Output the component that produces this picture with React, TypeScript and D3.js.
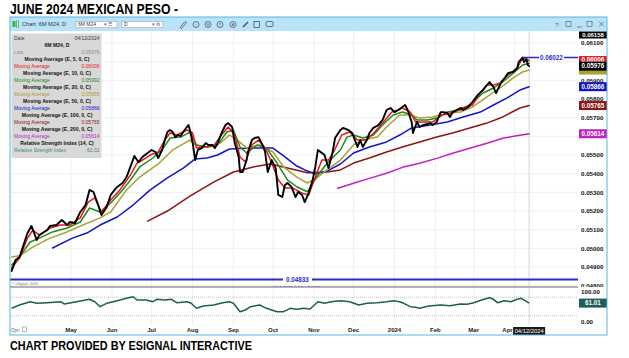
import * as d3 from "d3";

type Pt = [string, number];

const parse = d3.timeParse("%Y-%m-%d");
const SANS = "'Liberation Sans', Arial, sans-serif";

// daily close of the 6M M24 contract
const closePrices: Pt[] = [
  ["2023-03-17", 0.04879], ["2023-03-20", 0.04938], ["2023-03-23", 0.04954], ["2023-03-29", 0.05082],
  ["2023-04-01", 0.0512], ["2023-04-05", 0.05045], ["2023-04-07", 0.05071], ["2023-04-13", 0.05098],
  ["2023-04-15", 0.0512], ["2023-04-20", 0.05125], ["2023-04-24", 0.05152], ["2023-04-28", 0.05125],
  ["2023-04-30", 0.05141], ["2023-05-04", 0.05136], ["2023-05-08", 0.05195], ["2023-05-12", 0.05232],
  ["2023-05-15", 0.05313], ["2023-05-18", 0.05302], ["2023-05-21", 0.05243], ["2023-05-24", 0.05179],
  ["2023-05-28", 0.05221], ["2023-05-31", 0.05286], ["2023-06-03", 0.05313], ["2023-06-05", 0.05329],
  ["2023-06-09", 0.0535], ["2023-06-12", 0.05382], ["2023-06-16", 0.05457], ["2023-06-18", 0.05495],
  ["2023-06-21", 0.05462], ["2023-06-24", 0.05489], ["2023-06-28", 0.05511], ["2023-07-01", 0.05527],
  ["2023-07-04", 0.05516], ["2023-07-06", 0.05484], ["2023-07-09", 0.05527], ["2023-07-11", 0.0558],
  ["2023-07-13", 0.05623], ["2023-07-15", 0.05634], ["2023-07-17", 0.05623], ["2023-07-19", 0.05596],
  ["2023-07-21", 0.05607], ["2023-07-23", 0.05602], ["2023-07-26", 0.05634], ["2023-07-29", 0.05661],
  ["2023-07-30", 0.05634], ["2023-08-01", 0.0557], ["2023-08-03", 0.05473], ["2023-08-05", 0.05527],
  ["2023-08-08", 0.05537], ["2023-08-11", 0.05564], ["2023-08-13", 0.05554], ["2023-08-16", 0.05554],
  ["2023-08-18", 0.05537], ["2023-08-20", 0.05564], ["2023-08-23", 0.05618], ["2023-08-26", 0.05661],
  ["2023-08-28", 0.05671], ["2023-08-31", 0.0565], ["2023-09-02", 0.05564], ["2023-09-05", 0.05489],
  ["2023-09-06", 0.05409], ["2023-09-08", 0.05409], ["2023-09-11", 0.05473], ["2023-09-12", 0.05516],
  ["2023-09-15", 0.0558], ["2023-09-17", 0.05591], ["2023-09-20", 0.05596], ["2023-09-23", 0.05554],
  ["2023-09-25", 0.05516], ["2023-09-27", 0.05409], ["2023-09-30", 0.05473], ["2023-10-03", 0.0543],
  ["2023-10-05", 0.05286], ["2023-10-08", 0.05275], ["2023-10-10", 0.05339], ["2023-10-12", 0.0535],
  ["2023-10-15", 0.05329], ["2023-10-18", 0.05275], ["2023-10-20", 0.05302], ["2023-10-23", 0.05286],
  ["2023-10-25", 0.05248], ["2023-10-28", 0.05296], ["2023-10-31", 0.05366], ["2023-11-02", 0.05436],
  ["2023-11-04", 0.05527], ["2023-11-07", 0.05511], ["2023-11-09", 0.055], ["2023-11-12", 0.0543],
  ["2023-11-15", 0.05511], ["2023-11-17", 0.05591], ["2023-11-21", 0.05634], ["2023-11-23", 0.05645],
  ["2023-11-27", 0.05634], ["2023-11-30", 0.05618], ["2023-12-02", 0.0558], ["2023-12-04", 0.05543],
  ["2023-12-06", 0.0558], ["2023-12-08", 0.05543], ["2023-12-11", 0.0558], ["2023-12-13", 0.05618],
  ["2023-12-16", 0.05645], ["2023-12-20", 0.05661], ["2023-12-23", 0.05688], ["2023-12-26", 0.05741],
  ["2023-12-29", 0.05752], ["2024-01-01", 0.0573], ["2024-01-04", 0.05741], ["2024-01-07", 0.05757],
  ["2024-01-09", 0.05768], ["2024-01-11", 0.05741], ["2024-01-14", 0.05677], ["2024-01-15", 0.05618],
  ["2024-01-18", 0.05677], ["2024-01-20", 0.0565], ["2024-01-23", 0.05661], ["2024-01-26", 0.05666],
  ["2024-01-28", 0.05671], ["2024-01-30", 0.05661], ["2024-02-02", 0.05677], ["2024-02-05", 0.0573],
  ["2024-02-07", 0.0573], ["2024-02-10", 0.05725], ["2024-02-12", 0.05704], ["2024-02-14", 0.0573],
  ["2024-02-17", 0.05741], ["2024-02-20", 0.05752], ["2024-02-22", 0.05741], ["2024-02-26", 0.05757],
  ["2024-02-29", 0.05784], ["2024-03-04", 0.05821], ["2024-03-08", 0.05848], ["2024-03-11", 0.05875],
  ["2024-03-13", 0.05891], ["2024-03-16", 0.05864], ["2024-03-18", 0.05832], ["2024-03-19", 0.05848],
  ["2024-03-22", 0.05891], ["2024-03-25", 0.05918], ["2024-03-27", 0.05939], ["2024-03-31", 0.05945],
  ["2024-04-03", 0.05966], ["2024-04-04", 0.05998], ["2024-04-07", 0.06022], ["2024-04-08", 0.05998],
  ["2024-04-10", 0.06014], ["2024-04-11", 0.05982], ["2024-04-12", 0.05976],
];

const ema5: Pt[] = [
  ["2023-03-17", 0.04895], ["2023-03-23", 0.04948], ["2023-03-29", 0.05055], ["2023-04-02", 0.05098],
  ["2023-04-07", 0.05071], ["2023-04-15", 0.05109], ["2023-04-23", 0.05125], ["2023-04-30", 0.05125],
  ["2023-05-08", 0.05163], ["2023-05-14", 0.05248], ["2023-05-19", 0.0527], ["2023-05-24", 0.05195],
  ["2023-05-31", 0.05259], ["2023-06-07", 0.05313], ["2023-06-15", 0.05393], ["2023-06-20", 0.05457],
  ["2023-06-22", 0.05463], ["2023-06-30", 0.055], ["2023-07-06", 0.05516], ["2023-07-11", 0.0558],
  ["2023-07-15", 0.05618], ["2023-07-20", 0.05607], ["2023-07-28", 0.05634], ["2023-08-01", 0.05618],
  ["2023-08-04", 0.05538], ["2023-08-09", 0.05543], ["2023-08-17", 0.05548], ["2023-08-23", 0.05607],
  ["2023-08-28", 0.0565], ["2023-09-02", 0.05607], ["2023-09-06", 0.05489], ["2023-09-10", 0.05463],
  ["2023-09-15", 0.05554], ["2023-09-20", 0.0558], ["2023-09-25", 0.05538], ["2023-09-30", 0.05457],
  ["2023-10-05", 0.05366], ["2023-10-10", 0.05323], ["2023-10-16", 0.05323], ["2023-10-23", 0.05296],
  ["2023-10-28", 0.05286], ["2023-11-02", 0.05382], ["2023-11-07", 0.05473], ["2023-11-12", 0.05473],
  ["2023-11-17", 0.05532], ["2023-11-22", 0.05607], ["2023-11-28", 0.05623], ["2023-12-04", 0.0558],
  ["2023-12-11", 0.0558], ["2023-12-17", 0.05623], ["2023-12-23", 0.05671], ["2023-12-30", 0.0573],
  ["2024-01-07", 0.05752], ["2024-01-13", 0.0573], ["2024-01-17", 0.05677], ["2024-01-23", 0.05677],
  ["2024-01-30", 0.05677], ["2024-02-06", 0.05714], ["2024-02-14", 0.05725], ["2024-02-21", 0.05752],
  ["2024-02-29", 0.05768], ["2024-03-06", 0.05832], ["2024-03-11", 0.05875], ["2024-03-16", 0.05875],
  ["2024-03-21", 0.05886], ["2024-03-27", 0.05929], ["2024-04-03", 0.05966], ["2024-04-07", 0.0602],
  ["2024-04-12", 0.06006],
];

const ema10: Pt[] = [
  ["2023-03-17", 0.04911], ["2023-03-23", 0.04954], ["2023-03-31", 0.05034], ["2023-04-07", 0.05055],
  ["2023-04-17", 0.05088], ["2023-04-28", 0.05109], ["2023-05-08", 0.05141], ["2023-05-15", 0.05216],
  ["2023-05-23", 0.05195], ["2023-05-31", 0.05243], ["2023-06-07", 0.05296], ["2023-06-15", 0.05366],
  ["2023-06-22", 0.05436], ["2023-07-02", 0.05484], ["2023-07-10", 0.05538], ["2023-07-15", 0.05591],
  ["2023-07-23", 0.05596], ["2023-07-30", 0.05623], ["2023-08-04", 0.05554], ["2023-08-12", 0.05543],
  ["2023-08-20", 0.05554], ["2023-08-27", 0.05623], ["2023-09-01", 0.05634], ["2023-09-06", 0.05543],
  ["2023-09-11", 0.05511], ["2023-09-19", 0.05554], ["2023-09-26", 0.05538], ["2023-10-04", 0.05457],
  ["2023-10-12", 0.05366], ["2023-10-19", 0.0533], ["2023-10-27", 0.05303], ["2023-11-03", 0.05382],
  ["2023-11-11", 0.05457], ["2023-11-21", 0.05527], ["2023-11-26", 0.05596], ["2023-12-01", 0.05607],
  ["2023-12-08", 0.05591], ["2023-12-16", 0.05607], ["2023-12-23", 0.05661], ["2023-12-31", 0.05714],
  ["2024-01-07", 0.0573], ["2024-01-14", 0.05714], ["2024-01-18", 0.05688], ["2024-01-26", 0.05688],
  ["2024-02-02", 0.05698], ["2024-02-10", 0.0573], ["2024-02-20", 0.05741], ["2024-02-29", 0.05779],
  ["2024-03-08", 0.05832], ["2024-03-16", 0.05859], ["2024-03-23", 0.05891], ["2024-03-31", 0.05939],
  ["2024-04-07", 0.05982], ["2024-04-12", 0.05992],
];

const ema20: Pt[] = [
  ["2023-03-17", 0.04954], ["2023-03-23", 0.0496], ["2023-04-02", 0.05007], ["2023-04-15", 0.05055],
  ["2023-04-28", 0.05088], ["2023-05-10", 0.05125], ["2023-05-23", 0.05163], ["2023-05-31", 0.05195],
  ["2023-06-12", 0.05313], ["2023-06-22", 0.05382], ["2023-07-06", 0.05452], ["2023-07-17", 0.05527],
  ["2023-07-30", 0.0558], ["2023-08-03", 0.05554], ["2023-08-12", 0.05543], ["2023-08-22", 0.05564],
  ["2023-08-29", 0.05607], ["2023-09-04", 0.0558], ["2023-09-11", 0.05538], ["2023-09-21", 0.05554],
  ["2023-10-01", 0.05516], ["2023-10-09", 0.05436], ["2023-10-19", 0.05382], ["2023-10-27", 0.0535],
  ["2023-11-03", 0.05377], ["2023-11-11", 0.0542], ["2023-11-21", 0.05473], ["2023-12-01", 0.05554],
  ["2023-12-08", 0.0558], ["2023-12-19", 0.05596], ["2023-12-26", 0.0565], ["2024-01-05", 0.05714],
  ["2024-01-13", 0.05714], ["2024-01-20", 0.05698], ["2024-01-30", 0.05704], ["2024-02-10", 0.05725],
  ["2024-02-20", 0.0573], ["2024-02-29", 0.05757], ["2024-03-11", 0.05811], ["2024-03-21", 0.05859],
  ["2024-03-31", 0.05913], ["2024-04-07", 0.05945], ["2024-04-12", 0.05955],
];

const ema50: Pt[] = [
  ["2023-04-17", 0.05002], ["2023-05-02", 0.05055], ["2023-05-13", 0.05082], ["2023-05-23", 0.05125],
  ["2023-06-05", 0.05168], ["2023-06-17", 0.05232], ["2023-06-30", 0.05313], ["2023-07-13", 0.05377],
  ["2023-07-25", 0.0543], ["2023-08-03", 0.05479], ["2023-08-12", 0.05484], ["2023-08-20", 0.055],
  ["2023-08-29", 0.05532], ["2023-09-16", 0.05537], ["2023-10-01", 0.05537], ["2023-10-09", 0.05495],
  ["2023-10-19", 0.05441], ["2023-10-27", 0.05414], ["2023-11-02", 0.05398], ["2023-11-11", 0.05414],
  ["2023-11-21", 0.05452], ["2023-12-01", 0.05511], ["2023-12-13", 0.05543], ["2023-12-26", 0.0557],
  ["2024-01-05", 0.05607], ["2024-01-14", 0.05645], ["2024-01-28", 0.05661], ["2024-02-10", 0.05677],
  ["2024-02-22", 0.05704], ["2024-03-06", 0.0573], ["2024-03-16", 0.05768], ["2024-03-26", 0.05805],
  ["2024-04-05", 0.05848], ["2024-04-12", 0.05866],
];

const ema100: Pt[] = [
  ["2023-06-28", 0.05146], ["2023-07-13", 0.052], ["2023-07-30", 0.0528], ["2023-08-17", 0.05355],
  ["2023-09-01", 0.05409], ["2023-09-16", 0.05436], ["2023-09-29", 0.05452], ["2023-10-12", 0.0543],
  ["2023-10-27", 0.05405], ["2023-11-11", 0.05409], ["2023-11-21", 0.0542], ["2023-12-01", 0.05457],
  ["2023-12-13", 0.05484], ["2023-12-26", 0.05516], ["2024-01-07", 0.05543], ["2024-01-20", 0.0557],
  ["2024-02-02", 0.05596], ["2024-02-14", 0.05618], ["2024-02-27", 0.05645], ["2024-03-11", 0.05671],
  ["2024-03-23", 0.05704], ["2024-04-05", 0.05752], ["2024-04-12", 0.05765],
];

const ema200: Pt[] = [
  ["2023-11-19", 0.05322], ["2023-12-01", 0.05349], ["2023-12-13", 0.05375], ["2023-12-26", 0.05402],
  ["2024-01-07", 0.05434], ["2024-01-20", 0.05456], ["2024-02-02", 0.05482], ["2024-02-14", 0.05509],
  ["2024-02-27", 0.05536], ["2024-03-11", 0.05563], ["2024-03-23", 0.0559], ["2024-04-05", 0.05606],
  ["2024-04-12", 0.05614],
];

const rsi14: Pt[] = [
  ["2023-03-17", 44.2], ["2023-03-23", 54.8], ["2023-03-31", 65.5], ["2023-04-05", 60.3],
  ["2023-04-13", 62.3], ["2023-04-23", 65.5], ["2023-04-26", 58.1], ["2023-05-01", 62.3],
  ["2023-05-09", 68.7], ["2023-05-15", 73.2], ["2023-05-19", 65.5], ["2023-05-23", 49.4],
  ["2023-05-28", 60.3], ["2023-06-05", 68.7], ["2023-06-12", 76.5], ["2023-06-17", 81.6],
  ["2023-06-20", 71], ["2023-06-27", 71], ["2023-07-02", 65.5], ["2023-07-05", 73.2],
  ["2023-07-11", 71], ["2023-07-16", 73.2], ["2023-07-20", 62.3], ["2023-07-28", 65.5],
  ["2023-07-31", 60.3], ["2023-08-04", 44.2], ["2023-08-09", 51.6], ["2023-08-17", 54.8],
  ["2023-08-24", 62.3], ["2023-08-29", 65.5], ["2023-09-01", 60.3], ["2023-09-06", 33.2],
  ["2023-09-10", 38.7], ["2023-09-14", 49.4], ["2023-09-21", 54.8], ["2023-09-26", 44.2],
  ["2023-09-30", 38.7], ["2023-10-04", 33.2], ["2023-10-09", 33.2], ["2023-10-14", 44.2],
  ["2023-10-19", 41], ["2023-10-24", 44.2], ["2023-10-29", 41.9], ["2023-11-04", 65.5],
  ["2023-11-09", 60.3], ["2023-11-14", 65.5], ["2023-11-21", 68.7], ["2023-11-28", 65.5],
  ["2023-12-05", 54.8], ["2023-12-11", 60.3], ["2023-12-19", 62.3], ["2023-12-26", 65.5],
  ["2023-12-31", 68.7], ["2024-01-05", 65.5], ["2024-01-08", 60.3], ["2024-01-13", 49.4],
  ["2024-01-17", 47.4], ["2024-01-20", 44.2], ["2024-01-27", 51.6], ["2024-02-05", 54.8],
  ["2024-02-12", 52.6], ["2024-02-20", 58.1], ["2024-02-25", 57.1], ["2024-03-01", 62.3],
  ["2024-03-07", 71], ["2024-03-13", 78.4], ["2024-03-16", 73.2], ["2024-03-19", 62.3],
  ["2024-03-24", 68.7], ["2024-03-29", 65.5], ["2024-04-03", 73.2], ["2024-04-06", 76.5],
  ["2024-04-09", 68.7], ["2024-04-12", 61.01],
];

const priceTicks = [0.061, 0.06, 0.059, 0.058, 0.057, 0.056, 0.055, 0.054, 0.053, 0.052, 0.051, 0.05, 0.049, 0.048];
const monthTicks: [string, string][] = [
  ["2023-05-01", "May"], ["2023-06-01", "Jun"], ["2023-07-01", "Jul"], ["2023-08-01", "Aug"],
  ["2023-09-01", "Sep"], ["2023-10-01", "Oct"], ["2023-11-01", "Nov"], ["2023-12-01", "Dec"],
  ["2024-01-01", "2024"], ["2024-02-01", "Feb"], ["2024-03-01", "Mar"], ["2024-04-01", "Apr"],
];
const rsiLevels = [80, 20];

const lastDate = "2024-04-12";
const contractHigh = 0.06158;
const recentHigh = { date: "2024-04-07", value: 0.06022 };
const oldLow = { value: 0.04833, label: "MARCH 15, 2022" };

const COLORS = {
  close: "#000000",
  ema5: "#e8141c",
  ema10: "#1c8a1c",
  ema20: "#aaa232",
  ema50: "#1414c8",
  ema100: "#8e1414",
  ema200: "#c21fc2",
  rsi: "#1d5e58",
  low: "#8a8a8a",
};

// last-value tags on the price scale, in drawing order; the 10 and 20 tags sit
// underneath the others, so only a strip of them shows
const valueTags: { v: number; color: string; label: boolean }[] = [
  { v: 0.05955, color: COLORS.ema20, label: false },
  { v: 0.05992, color: COLORS.ema10, label: false },
  { v: 0.06006, color: COLORS.ema5, label: true },
  { v: 0.05976, color: "#000000", label: true },
  { v: 0.05866, color: COLORS.ema50, label: true },
  { v: 0.05765, color: COLORS.ema100, label: true },
  { v: 0.05614, color: COLORS.ema200, label: true },
];

const legendRows: { label: string; value?: string; color: string; header?: boolean }[] = [
  { label: "Date", value: "04/12/2024", color: "#3a3a3a" },
  { label: "6M M24, D", color: "#111", header: true },
  { label: "Low", value: "0.05976", color: COLORS.low },
  { label: "Moving Average (E, 5, 0, C)", color: "#111", header: true },
  { label: "Moving Average", value: "0.06006", color: COLORS.ema5 },
  { label: "Moving Average (E, 10, 0, C)", color: "#111", header: true },
  { label: "Moving Average", value: "0.05992", color: COLORS.ema10 },
  { label: "Moving Average (E, 20, 0, C)", color: "#111", header: true },
  { label: "Moving Average", value: "0.05955", color: COLORS.ema20 },
  { label: "Moving Average (E, 50, 0, C)", color: "#111", header: true },
  { label: "Moving Average", value: "0.05866", color: COLORS.ema50 },
  { label: "Moving Average (E, 100, 0, C)", color: "#111", header: true },
  { label: "Moving Average", value: "0.05765", color: COLORS.ema100 },
  { label: "Moving Average (E, 200, 0, C)", color: "#111", header: true },
  { label: "Moving Average", value: "0.05614", color: COLORS.ema200 },
  { label: "Relative Strength Index (14, C)", color: "#111", header: true },
  { label: "Relative Strength Index", value: "61.01", color: "#3f8a88" },
];

function Toolbar() {
  const icons = [196, 208, 220, 233];
  return (
    <g fontFamily={SANS}>
      <rect x={10} y={17} width={597} height={14} fill="#b9e3f8" />
      <rect x={12.5} y={21} width={3} height={6} fill="#3cb043" />
      <rect x={16.5} y={21} width={2} height={6} fill="none" stroke="#3cb043" strokeWidth={0.7} />
      <text x={22} y={26.3} fontSize={5.6} fill="#333">Chart: 6M M24, D</text>
      <rect x={76} y={21.5} width={41} height={6} fill="#fff" stroke="#999" strokeWidth={0.5} />
      <text x={78} y={26.3} fontSize={5} fill="#333">6M M24</text>
      <text x={104} y={26.3} fontSize={4.5} fill="#666">▾ ☰</text>
      <rect x={122} y={21.5} width={41} height={6} fill="#fff" stroke="#999" strokeWidth={0.5} />
      <text x={124} y={26.3} fontSize={5} fill="#333">D</text>
      <text x={152} y={26.3} fontSize={4.5} fill="#666">▾ ⚙</text>
      <path d="M180,27.5 L185,21.5 L186.5,22.5 L181.5,28.5 Z" fill="none" stroke="#444" strokeWidth={0.7} />
      {icons.map((cx, i) => (
        <g key={cx}>
          <circle cx={cx} cy={24.5} r={3} fill="none" stroke="#444" strokeWidth={0.7} />
          <text x={cx} y={26.2} fontSize={4} textAnchor="middle" fill="#444">{["−", "B", "T", "A"][i]}</text>
        </g>
      ))}
      <path d="M243,27 L248,22" stroke="#444" strokeWidth={1.2} />
      <rect x={254} y={21.5} width={5.5} height={6} fill="none" stroke="#444" strokeWidth={0.7} />
      <rect x={266} y={21.5} width={7} height={5} rx={1} fill="none" stroke="#444" strokeWidth={0.7} />
      <text x={557} y={26.5} fontSize={6} fill="#666" textAnchor="middle">?</text>
      <rect x={566} y={21.5} width={5} height={5} fill="none" stroke="#666" strokeWidth={0.7} />
      <path d="M577,27 L582,27" stroke="#666" strokeWidth={0.8} />
      <rect x={587} y={21.5} width={5} height={5} fill="none" stroke="#666" strokeWidth={0.7} />
      <path d="M599,21.5 L604,26.5 M604,21.5 L599,26.5" stroke="#666" strokeWidth={0.8} />
    </g>
  );
}

function Legend() {
  const top = 33.5;
  const step = 7.03;
  return (
    <g fontFamily={SANS}>
      <rect x={11.5} y={top} width={90} height={124.5} fill="#d6d6d6" opacity={0.95} />
      {legendRows.map((r, i) => {
        const yy = top + 6 + i * step;
        return r.header ? (
          <text key={i} x={57} y={yy} fontSize={5.1} fontWeight="bold" textAnchor="middle" fill={r.color}>
            {r.label}
          </text>
        ) : (
          <g key={i}>
            <text x={14} y={yy} fontSize={5} fill={r.color}>{r.label}</text>
            <text x={99.5} y={yy} fontSize={5} fill={r.color} textAnchor="end">{r.value}</text>
          </g>
        );
      })}
    </g>
  );
}

export default function App() {
  const W = 629;
  const H = 358;
  const plot = { left: 10, right: 578, top: 31, bottom: 287 };
  const rsiPane = { top: 287, bottom: 325 };

  const x = d3
    .scaleTime()
    .domain([parse("2023-03-15")!, parse("2024-05-19")!])
    .range([9, 578]);
  const y = d3.scaleLinear().domain([0.048, 0.061]).range([285.7, 43]);
  const yr = d3.scaleLinear().domain([0, 100]).range([322, 291]);

  const px = (d: string) => x(parse(d)!);
  const priceLine = d3.line<Pt>().x((d) => px(d[0])).y((d) => y(d[1]));
  const rsiLine = d3.line<Pt>().x((d) => px(d[0])).y((d) => yr(d[1]));

  const series: [Pt[], string, number][] = [
    [ema200, COLORS.ema200, 1.5],
    [ema100, COLORS.ema100, 1.5],
    [ema50, COLORS.ema50, 1.5],
    [ema20, COLORS.ema20, 1.5],
    [ema10, COLORS.ema10, 1.5],
    [ema5, COLORS.ema5, 1.5],
    [closePrices, COLORS.close, 1.9],
  ];

  const lastX = px(lastDate);
  const lastRsi = rsi14[rsi14.length - 1][1];
  const dateTagLeft = lastX - 16;

  // axis labels that a value tag covers are not drawn
  const shownTicks = priceTicks.filter((t) => valueTags.every((tag) => Math.abs(y(t) - y(tag.v)) > 6));

  return (
    <svg
      width={W}
      height={H}
      viewBox={`0 0 ${W} ${H}`}
      style={{ position: "absolute", left: 0, top: 0, background: "#fff" }}
    >
      <defs>
        <clipPath id="plotClip">
          <rect x={plot.left} y={plot.top} width={plot.right - plot.left} height={plot.bottom - plot.top} />
        </clipPath>
        <clipPath id="rsiClip">
          <rect x={plot.left} y={rsiPane.top} width={plot.right - plot.left} height={rsiPane.bottom - rsiPane.top} />
        </clipPath>
        <clipPath id="axisClip">
          <rect x={578} y={plot.top} width={30} height={plot.bottom - plot.top} />
        </clipPath>
      </defs>
      <rect x={0} y={0} width={W} height={H} fill="#fff" />

      <text
        x={10}
        y={14}
        fontFamily={SANS}
        fontWeight="bold"
        fontSize={14.5}
        textLength={168}
        lengthAdjust="spacingAndGlyphs"
        fill="#000"
      >
        JUNE 2024 MEXICAN PESO -
      </text>

      {/* grid */}
      <g stroke="#ebebeb" strokeWidth={0.8}>
        {priceTicks.map((t) => (
          <line key={t} x1={plot.left} x2={plot.right} y1={y(t)} y2={y(t)} />
        ))}
        {monthTicks.map(([d]) => (
          <line key={d} x1={px(d)} x2={px(d)} y1={plot.top} y2={rsiPane.bottom} />
        ))}
      </g>
      <line x1={lastX} x2={lastX} y1={plot.top} y2={rsiPane.bottom} stroke="#d2d2d2" strokeWidth={0.9} />

      {/* price pane */}
      <g clipPath="url(#plotClip)">
        <line x1={plot.left} x2={plot.right} y1={y(oldLow.value)} y2={y(oldLow.value)} stroke="#2b2bc8" strokeWidth={2} />
        {series.map(([data, color, w], i) => (
          <path
            key={i}
            d={priceLine(data) ?? ""}
            fill="none"
            stroke={color}
            strokeWidth={w}
            strokeLinejoin="round"
            strokeLinecap="round"
          />
        ))}
        <line
          x1={px(recentHigh.date)}
          x2={plot.right}
          y1={y(recentHigh.value)}
          y2={y(recentHigh.value)}
          stroke="#2b2bc8"
          strokeWidth={1.5}
        />
        <rect x={539} y={y(recentHigh.value) - 3.5} width={25} height={7} fill="#fff" />
        <text
          x={551.5}
          y={y(recentHigh.value) + 2.2}
          fontFamily={SANS}
          fontSize={6.3}
          fontWeight="bold"
          fill="#2b2bc8"
          textAnchor="middle"
        >
          {recentHigh.value.toFixed(5)}
        </text>
        <rect x={283} y={y(oldLow.value) - 3.5} width={29} height={7} fill="#fff" />
        <text
          x={297.5}
          y={y(oldLow.value) + 2.2}
          fontFamily={SANS}
          fontSize={6.3}
          fontWeight="bold"
          fill="#2b2bc8"
          textAnchor="middle"
        >
          {oldLow.value.toFixed(5)}
        </text>
        <text x={297} y={290} fontFamily={SANS} fontSize={6} fontWeight="bold" fill="#2b2bc8" textAnchor="middle">
          {oldLow.label}
        </text>
        <text x={12} y={284.5} fontFamily={SANS} fontSize={3.6} fill="#777">© eSignal, 2024</text>
      </g>

      <Legend />

      {/* price axis; the lowest label is cut by the pane divider */}
      <g fontFamily={SANS} fontSize={6.2} fontWeight="bold" fill="#111" clipPath="url(#axisClip)">
        {shownTicks.map((t) => (
          <text key={t} x={581} y={y(t) + 2.2}>
            {t.toFixed(5)}
          </text>
        ))}
      </g>
      <rect x={579} y={31.5} width={28} height={7} fill="#000" />
      <text x={593} y={37} fontFamily={SANS} fontSize={6} fontWeight="bold" fill="#fff" textAnchor="middle">
        {contractHigh.toFixed(5)}
      </text>
      {valueTags.map((tag) => (
        <g key={tag.v}>
          <rect x={579} y={y(tag.v) - 4.5} width={28} height={9} fill={tag.color} />
          {tag.label && (
            <text
              x={593}
              y={y(tag.v) + (tag.v === 0.06006 ? 1 : 2.3)}
              fontFamily={SANS}
              fontSize={6.3}
              fontWeight="bold"
              fill="#fff"
              textAnchor="middle"
            >
              {tag.v.toFixed(5)}
            </text>
          )}
        </g>
      ))}

      {/* RSI pane */}
      <line x1={plot.left} x2={plot.right} y1={rsiPane.top} y2={rsiPane.top} stroke="#9a9a9a" strokeWidth={1.4} />
      <g stroke="#a8a8a8" strokeWidth={0.7} strokeDasharray="1,1">
        {rsiLevels.map((l) => (
          <line key={l} x1={plot.left} x2={plot.right} y1={yr(l)} y2={yr(l)} />
        ))}
      </g>
      <g clipPath="url(#rsiClip)">
        <path d={rsiLine(rsi14) ?? ""} fill="none" stroke={COLORS.rsi} strokeWidth={1.5} strokeLinejoin="round" />
      </g>
      <text x={581} y={yr(100) + 3.2} fontFamily={SANS} fontSize={6.2} fontWeight="bold" fill="#111">100.00</text>
      <text x={581} y={yr(0) + 2.2} fontFamily={SANS} fontSize={6.2} fontWeight="bold" fill="#111">0.00</text>
      <rect x={579} y={yr(lastRsi) - 4.5} width={28} height={9} fill={COLORS.rsi} />
      <text
        x={593}
        y={yr(lastRsi) + 2.2}
        fontFamily={SANS}
        fontSize={6.3}
        fontWeight="bold"
        fill="#fff"
        textAnchor="middle"
      >
        {lastRsi.toFixed(2)}
      </text>

      {/* time axis; the last month label is pushed left of the date tag */}
      <g fontFamily={SANS} fontSize={6} fontWeight="bold" fill="#222">
        {monthTicks.map(([d, label]) => {
          const cx = px(d);
          const clash = cx + 6 > dateTagLeft;
          return (
            <text key={d} x={clash ? dateTagLeft - 0.5 : cx} y={332} textAnchor={clash ? "end" : "middle"}>
              {label}
            </text>
          );
        })}
      </g>
      <text x={11} y={332} fontFamily={SANS} fontSize={4.5} fill="#666">Opn</text>
      <rect x={22.5} y={327} width={4} height={4.5} fill="none" stroke="#888" strokeWidth={0.6} />
      <rect x={dateTagLeft} y={327} width={32} height={8} fill="#1a1a1a" />
      <text x={lastX} y={333} fontFamily={SANS} fontSize={5.8} fill="#fff" textAnchor="middle">
        04/12/2024
      </text>

      <Toolbar />

      <rect x={10} y={17} width={597} height={318} fill="none" stroke="#5ab4e6" strokeWidth={1} />

      <text
        x={10}
        y={349.5}
        fontFamily={SANS}
        fontWeight="bold"
        fontSize={13}
        textLength={242}
        lengthAdjust="spacingAndGlyphs"
        fill="#000"
      >
        CHART PROVIDED BY ESIGNAL INTERACTIVE
      </text>
    </svg>
  );
}
